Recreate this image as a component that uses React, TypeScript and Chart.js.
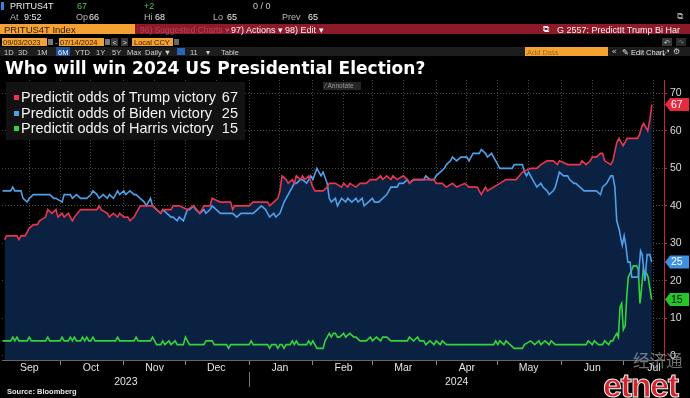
import React, { useEffect, useRef } from "react";
import { Chart, registerables } from "chart.js";

Chart.register(...registerables);

// x = days since 2023-09-03 (chart start date), y = PredictIt price (cents)
const trumpDays = [1,2,7,8,9,11,12,13,15,17,18,21,22,24,26,27,29,30,32,34,35,38,41,46,47,48,51,52,54,56,57,59,61,62,64,67,70,73,75,77,78,82,83,86,90,93,96,98,101,102,106,111,112,113,120,122,129,130,132,134,135,136,138,139,141,142,143,145,146,147,149,151,152,156,158,159,162,165,166,168,169,172,174,177,179,182,184,185,187,189,190,192,195,197,198,200,210,211,214,216,219,221,225,227,231,233,235,236,239,242,245,250,253,257,260,262,265,268,270,271,275,281,282,284,286,287,289,291,292,293,296,297,299,300,301,302,304,309,310,311,312,313,314,315,316];
const trumpOdds = [31,32,32,31,32,32,33,34,35,35,36,37,39,38,39,37,38,37,38,36,37,39,39,39,40,39,38,37,38,37,38,37,37,36,37,40,40,40,39,38,39,39,40,40,39,40,38,40,40,42,41,41,39,40,40,41,41,40,41,42,44,48,47,46,47,46,48,47,48,47,48,45,44,44,45,46,46,45,46,45,46,45,46,46,47,47,48,47,48,47,48,47,48,47,46,47,47,46,46,45,46,45,46,45,45,43,45,44,45,46,47,47,49,50,50,51,52,52,51,52,51,51,52,51,52,53,53,54,54,52,51,52,57,58,57,56,58,58,59,61,62,61,60,63,67];

const bidenDays = [0,4,5,6,9,10,12,13,15,23,25,26,29,30,33,34,36,38,41,43,44,46,47,49,51,52,54,56,57,59,60,62,64,65,67,69,70,72,73,75,77,78,80,82,83,85,86,88,90,91,93,94,96,98,99,101,102,104,106,112,114,116,122,124,126,128,129,130,132,133,135,137,138,140,142,143,145,146,148,150,151,153,155,156,158,159,160,162,163,165,167,168,170,172,173,175,176,178,180,181,183,185,187,189,192,193,195,197,198,200,205,206,208,210,211,213,215,216,218,219,221,223,226,227,229,232,233,235,236,238,240,241,242,248,249,253,254,255,256,257,258,260,262,263,265,266,268,269,270,271,273,275,276,278,279,281,283,289,291,292,294,296,297,298,298.9,300.2,301,301.6,302.5,303.3,304.3,305.4,306.2,309.4,310.5,311.3,312.6,313.7,315,315.9];
const bidenOdds = [44,44,45,44,44,42,41,42,43,43,42,42,41,43,43,42,43,42,42,43,44,43,42,43,42,43,42,44,43,44,43,44,43,43,42,41,40,42,40,39,38,39,38,37,37,36,37,36,39,39,40,39,38,39,38,39,40,39,38,38,37,38,38,39,40,39,38,37,38,37,38,41,42,44,46,46,47,47,46,48,47,50,48,49,46,42,41,42,40,42,41,42,41,42,41,42,40,41,42,41,41,42,43,45,45,46,46,47,46,47,47,48,47,47,48,49,50,51,52,53,52,53,53,52,54,54,55,54,53,54,52,51,50,50,51,51,49,48,49,48,47,45,46,45,44,43,44,45,47,49,48,48,47,46,46,45,44,44,43,45,46,48,48,45,36,33.5,31,29.5,32,29.5,25,25,21,21,28,27,20,27,27,25];

const harrisDays = [0,4,5,6,7,8,12,13,14,21,22,23,28,29,30,32,33,34,35,36,38,39,40,41,42,43,44,45,55,56,57,64,65,66,72,73,74,75,77,78,79,81,82,84,85,88,89,90,91,98,99,102,103,109,110,111,120,121,122,129,130,131,133,134,135,136,137,138,140,141,142,143,144,148,149,150,151,152,153,156,157,158,159,160,161,162,163,164,166,167,169,171,172,174,177,179,180,182,184,185,187,189,197,198,200,202,203,205,206,208,210,211,213,214,216,239,240,241,242,244,245,247,249,253,254,257,259,261,262,264,266,267,269,284,285,287,288,290,292,293,295,296,297,297.8,298.9,299.7,300.5,301.3,302.1,303,303.8,304.5,305.4,306.2,307,308.6,309.4,310.2,311,311.8,312.6,313.4,314.2,315,315.9];
const harrisOdds = [4,4,5,4,5,4,4,5,4,4,5,4,4,5,4,4,5,4,5,4,4,5,4,5,4,4,5,4,4,5,4,4,5,4,4,5,4,3,3,4,3,4,3,4,3,3,5,4,3,3,4,4,3,3,2,3,3,4,3,3,2,3,3,2,3,3,2,3,3,4,3,4,3,3,4,3,4,3,2,2,4,5,6,5,6,6,5,5,6,5,6,5,5,4,4,5,4,5,4,5,5,4,4,5,4,5,4,4,3,4,3,4,3,4,3,3,4,3,4,3,4,3,2,2,3,4,3,4,3,4,3,4,3,3,4,3,4,3,3,4,3,4,4,5,6,5,13,14,7,8,16,21,22,23,24,24,23,14,18,23,22,22,21,18,15];

const seriesNames = ["Predictit odds of Trump victory", "Predictit odds of Biden victory", "Predictit odds of Harris victory"];
const lastValues = [trumpOdds[trumpOdds.length - 1], bidenOdds[bidenOdds.length - 1], harrisOdds[harrisOdds.length - 1]];

const monthLabels = ["Sep", "Oct", "Nov", "Dec", "Jan", "Feb", "Mar", "Apr", "May", "Jun", "Jul"];
const monthStartDays = [-2, 28, 59, 89, 120, 151, 180, 211, 241, 272, 302];
const monthMidDays = [13, 43, 74, 104, 135, 166, 195, 226, 256, 287, 317];
const yearLabels = ["2023", "2024"];
const yearMidDays = [60, 221];
const yearStartDay = 120;
const yTicks = [0, 10, 20, 30, 40, 50, 60, 70];

const RED = "#e8364e";
const BLUE = "#4f9fe9";
const GREEN = "#33d43b";
const NAVY = "#0b2142";
const lineColors = [RED, BLUE, GREEN];
const tagColors = ["#e42a40", "#3f90e0", "#26c52a"];
const tagTextColors = ["#ffffff", "#ffffff", "#0a0a0a"];

const AXIS_FONT = "'Liberation Sans', Arial, sans-serif";

const pts = (xs: number[], ys: number[]) => xs.map((x, i) => ({ x, y: ys[i] }));

const tagPlugin = {
  id: "lastTags",
  afterDraw(chart: any) {
    const { ctx, chartArea } = chart;
    const ys = chart.scales.y;
    const x0 = chartArea.right + 1;
    lastValues.forEach((v, i) => {
      const py = ys.getPixelForValue(v);
      ctx.save();
      ctx.fillStyle = tagColors[i];
      ctx.beginPath();
      ctx.moveTo(x0, py);
      ctx.lineTo(x0 + 5, py - 6.5);
      ctx.lineTo(689, py - 6.5);
      ctx.lineTo(689, py + 6.5);
      ctx.lineTo(x0 + 5, py + 6.5);
      ctx.closePath();
      ctx.fill();
      ctx.fillStyle = tagTextColors[i];
      ctx.font = "10.5px " + AXIS_FONT;
      ctx.textBaseline = "middle";
      ctx.textAlign = "left";
      ctx.fillText(String(v), x0 + 6, py + 0.5);
      ctx.restore();
    });
  },
};

const yearSepPlugin = {
  id: "yearSep",
  afterDraw(chart: any) {
    const { ctx, chartArea } = chart;
    const x = Math.round(chart.scales.x.getPixelForValue(yearStartDay)) + 0.5;
    ctx.save();
    ctx.strokeStyle = "#777";
    ctx.lineWidth = 1;
    ctx.beginPath();
    ctx.moveTo(x, chartArea.bottom + 12);
    ctx.lineTo(x, chartArea.bottom + 27);
    ctx.stroke();
    ctx.restore();
  },
};

const T = (p: any) => (
  <div
    style={{
      position: "absolute",
      left: p.x,
      top: p.y,
      color: p.c || "#dcdcdc",
      fontSize: p.s || 9,
      fontWeight: p.b ? 700 : 400,
      whiteSpace: "pre",
      lineHeight: 1,
      fontFamily: p.f || AXIS_FONT,
      ...(p.st || {}),
    }}
  >
    {p.children}
  </div>
);

const B = (p: any) => (
  <div style={{ position: "absolute", left: p.x, top: p.y, width: p.w, height: p.h, background: p.bg, ...(p.st || {}) }} />
);

export default function App() {
  const ref = useRef<HTMLCanvasElement>(null);

  useEffect(() => {
    document.body.style.margin = "0";
    document.body.style.background = "#000";
    const canvas = ref.current;
    if (!canvas) return;
    const chart = new Chart(canvas, {
      type: "line",
      data: {
        datasets: [
          {
            label: seriesNames[0],
            data: pts(trumpDays, trumpOdds),
            borderColor: RED,
            backgroundColor: NAVY,
            fill: "start",
            borderWidth: 1.6,
            pointRadius: 0,
            tension: 0,
          },
          {
            label: seriesNames[1],
            data: pts(bidenDays, bidenOdds),
            borderColor: BLUE,
            borderWidth: 1.6,
            pointRadius: 0,
            tension: 0,
            fill: false,
          },
          {
            label: seriesNames[2],
            data: pts(harrisDays, harrisOdds),
            borderColor: GREEN,
            borderWidth: 1.6,
            pointRadius: 0,
            tension: 0,
            fill: false,
          },
        ],
      },
      options: {
        animation: false,
        responsive: false,
        maintainAspectRatio: false,
        devicePixelRatio: 1,
        layout: { padding: { left: 2, top: 80, right: 0, bottom: 9 } },
        plugins: {
          legend: { display: false },
          tooltip: { enabled: false },
          filler: { drawTime: "beforeDatasetsDraw" },
        },
        scales: {
          x: {
            type: "linear",
            position: "bottom",
            weight: 0,
            min: -0.25,
            max: 321.9,
            afterBuildTicks: (axis: any) => {
              axis.ticks = [...monthStartDays, ...monthMidDays]
                .filter((d) => d >= axis.min && d <= axis.max)
                .sort((a, b) => a - b)
                .map((value) => ({ value }));
            },
            afterFit: (axis: any) => {
              axis.height = 15;
            },
            ticks: {
              autoSkip: false,
              maxRotation: 0,
              padding: -3.5,
              color: "#e4e4e4",
              font: { family: AXIS_FONT, size: 10.5 },
              callback: (value: any) => {
                const i = monthMidDays.indexOf(Number(value));
                return i >= 0 ? monthLabels[i] : "";
              },
            },
            grid: {
              color: "rgba(190,190,190,0.38)",
              lineWidth: 1,
              tickLength: 5,
              tickColor: (ctx: any) =>
                ctx.tick && monthStartDays.includes(ctx.tick.value) ? "#888" : "rgba(0,0,0,0)",
            },
            border: { display: true, color: "#666", width: 1, dash: [1, 2] },
          },
          x2: {
            type: "linear",
            position: "bottom",
            weight: 1,
            min: -0.25,
            max: 321.9,
            afterBuildTicks: (axis: any) => {
              axis.ticks = yearMidDays.map((value) => ({ value }));
            },
            afterFit: (axis: any) => {
              axis.height = 14;
            },
            ticks: {
              autoSkip: false,
              maxRotation: 0,
              padding: 0.5,
              color: "#e4e4e4",
              font: { family: AXIS_FONT, size: 10.5 },
              callback: (value: any) => {
                const i = yearMidDays.indexOf(Number(value));
                return i >= 0 ? yearLabels[i] : "";
              },
            },
            grid: { display: false, drawTicks: false },
            border: { display: false },
          },
          y: {
            type: "linear",
            position: "right",
            min: -1.1,
            max: 73.55,
            afterBuildTicks: (axis: any) => {
              axis.ticks = yTicks.map((value) => ({ value }));
            },
            afterFit: (axis: any) => {
              axis.width = 26;
            },
            ticks: {
              padding: 3,
              color: "#dcdcdc",
              font: { family: AXIS_FONT, size: 10.5 },
            },
            grid: {
              color: "rgba(190,190,190,0.38)",
              lineWidth: 1,
              tickLength: 3,
              tickColor: "#c0283a",
            },
            border: { display: true, color: "#c0283a", width: 1, dash: [1, 2] },
          },
        },
      },
      plugins: [tagPlugin, yearSepPlugin],
    } as any);
    return () => chart.destroy();
  }, []);

  const legendTops = [90.4, 105.7, 121];
  const legendVals = ["67", "25", "15"];

  return (
    <div
      style={{
        position: "relative",
        width: 690,
        height: 398,
        background: "#000",
        overflow: "hidden",
        fontFamily: AXIS_FONT,
      }}
    >
      <canvas ref={ref} width={690} height={398} style={{ position: "absolute", left: 0, top: 0, width: 690, height: 398 }} />

      {/* Bloomberg header row 1 */}
      <B x={1} y={2} w={3} h={8} bg="#3d82e0" />
      <T x={10} y={2} c="#f0f0f0">PRITUS4T</T>
      <T x={77} y={2} c="#4fc24f">67</T>
      <T x={144} y={2} c="#4fc24f">+2</T>
      <T x={253} y={2} c="#c8c8c8">0 / 0</T>
      <T x={677} y={12} c="#9a9a9a" s={9}>⧉</T>

      {/* row 2 */}
      <T x={10} y={13} c="#b8b8b8">At</T>
      <T x={24} y={13} c="#eeeeee">9:52</T>
      <T x={76} y={13} c="#b8b8b8">Op</T>
      <T x={89} y={13} c="#eeeeee">66</T>
      <T x={144} y={13} c="#b8b8b8">Hi</T>
      <T x={155} y={13} c="#eeeeee">68</T>
      <T x={213} y={13} c="#b8b8b8">Lo</T>
      <T x={227} y={13} c="#eeeeee">65</T>
      <T x={282} y={13} c="#b8b8b8">Prev</T>
      <T x={308} y={13} c="#eeeeee">65</T>

      {/* row 3 */}
      <B x={0} y={24} w={135} h={10} bg="#f4a233" />
      <B x={135} y={24} w={555} h={10} bg="#8c1a29" />
      <T x={4} y={25} c="#2b1800" s={9.5}>PRITUS4T Index</T>
      <T x={140} y={25.5} c="#b84558" s={8.5}>96) Suggested Charts ▾</T>
      <T x={231} y={25.5} c="#f4f4f4" s={9}>97) Actions ▾</T>
      <T x={285} y={25.5} c="#f4f4f4" s={9}>98) Edit ▾</T>
      <T x={543} y={25} c="#f4f4f4" s={8.5}>⧉</T>
      <T x={557} y={25.5} c="#f4f4f4" s={9}>G 2557: PredictIt Trump Bi Har</T>

      {/* row 4 */}
      <B x={2} y={38} w={45} h={8} bg="#f4a233" />
      <T x={3} y={38.5} c="#3a2000" s={7.5}>09/03/2023</T>
      <B x={48} y={39} w={5} h={6} bg="#777" />
      <T x={55} y={38.5} c="#cccccc" s={7.5}>-</T>
      <B x={59} y={38} w={45} h={8} bg="#f4a233" />
      <T x={60} y={38.5} c="#3a2000" s={7.5}>07/14/2024</T>
      <B x={105} y={39} w={5} h={6} bg="#777" />
      <B x={111} y={38} w={7} h={8} bg="#3a3a3a" />
      <T x={112.5} y={38.5} c="#dddddd" s={7.5}>{"<"}</T>
      <B x={121} y={38} w={7} h={8} bg="#3a3a3a" />
      <T x={122.5} y={38.5} c="#dddddd" s={7.5}>{">"}</T>
      <B x={132} y={38} w={41} h={8} bg="#f4a233" />
      <T x={134} y={38.5} c="#3a2000" s={7.5}>Local CCY</T>
      <B x={174} y={39} w={5} h={6} bg="#666" />
      <B x={662} y={38} w={10} h={8} bg="#3a3a3a" />
      <T x={664} y={38.5} c="#cccccc" s={7}>↶</T>
      <B x={676} y={38} w={10} h={8} bg="#2a2a2a" />
      <T x={678} y={38.5} c="#777777" s={7}>↷</T>

      {/* row 5 */}
      <B x={0} y={47} w={690} h={9} bg="#1d1d1d" />
      <B x={56} y={47} w={14} h={9} bg="#1d4f95" />
      <T x={4} y={48.5} c="#cfcfcf" s={7.5}>1D</T>
      <T x={18} y={48.5} c="#cfcfcf" s={7.5}>3D</T>
      <T x={37} y={48.5} c="#cfcfcf" s={7.5}>1M</T>
      <T x={58} y={48.5} c="#ffffff" s={7.5}>6M</T>
      <T x={75} y={48.5} c="#cfcfcf" s={7.5}>YTD</T>
      <T x={96} y={48.5} c="#cfcfcf" s={7.5}>1Y</T>
      <T x={112} y={48.5} c="#cfcfcf" s={7.5}>5Y</T>
      <T x={127} y={48.5} c="#cfcfcf" s={7.5}>Max</T>
      <T x={145} y={48.5} c="#cfcfcf" s={7.5}>Daily ▼</T>
      <B x={177} y={48} w={8} h={7} bg="#2d63b5" />
      <T x={190} y={48.5} c="#cfcfcf" s={7.5}>11</T>
      <T x={206} y={48.5} c="#cfcfcf" s={7.5}>▾</T>
      <T x={221} y={48.5} c="#cfcfcf" s={7.5}>Table</T>
      <B x={525} y={47} w={83} h={9} bg="#f4a233" />
      <T x={527} y={48.5} c="#9a6a20" s={7.5}>Add Data</T>
      <T x={612} y={48} c="#cfcfcf" s={8}>«</T>
      <T x={622} y={48.5} c="#e0e0e0" s={7.5}>✎ Edit Chart</T>
      <T x={663} y={48.5} c="#cfcfcf" s={7.5}>⤢</T>
      <T x={673} y={48} c="#cfcfcf" s={8}>⚙</T>

      {/* title */}
      <T x={5} y={60} c="#ffffff" s={17} b f="'DejaVu Sans', sans-serif" st={{ lineHeight: "17px" }}>
        Who will win 2024 US Presidential Election?
      </T>

      {/* legend */}
      <B x={6} y={82} w={239} h={58} bg="#121212" />
      {seriesNames.map((name, i) => (
        <React.Fragment key={name}>
          <B x={13.5} y={legendTops[i] + 5} w={5} h={5} bg={lineColors[i]} />
          <div
            style={{
              position: "absolute",
              left: 21,
              top: legendTops[i],
              width: 217,
              display: "flex",
              justifyContent: "space-between",
              color: "#f2f2f2",
              fontSize: 14.5,
              lineHeight: "15px",
              fontFamily: AXIS_FONT,
              whiteSpace: "pre",
            }}
          >
            <span>{name}</span>
            <span>{legendVals[i]}</span>
          </div>
        </React.Fragment>
      ))}

      {/* annotate button */}
      <B x={323} y={82} w={38} h={8} bg="#262626" />
      <T x={325} y={83} c="#9a9a9a" s={6.5}>⁄ Annotate</T>

      {/* source */}
      <T x={7} y={388} c="#e6e6e6" s={7.5} b>Source: Bloomberg</T>

      {/* watermark */}
      <T x={633} y={352} c="rgba(200,200,200,0.55)" s={16.5} f="'Noto Sans CJK SC', sans-serif">经济通</T>
      <T
        x={603}
        y={368}
        c="#d0252b"
        s={34}
        b
        st={{ letterSpacing: "-1.3px", WebkitTextStroke: "1px #f0f0f0" }}
      >
        etnet
      </T>
    </div>
  );
}
